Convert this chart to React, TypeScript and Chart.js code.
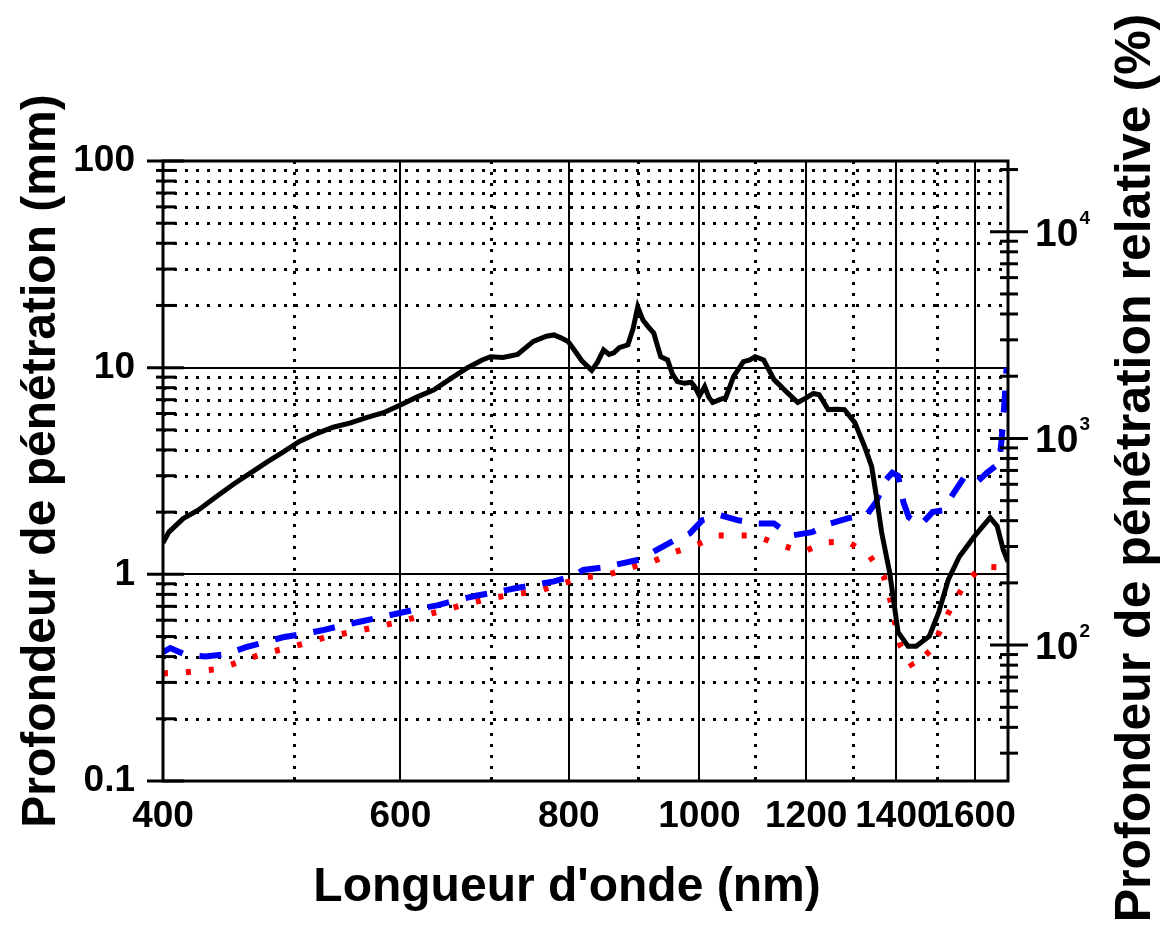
import React, { useEffect, useRef } from "react";
import { Chart, registerables } from "chart.js";

Chart.register(...registerables);

// ---- Data ----
const blackWavelength = [400, 404, 414, 425, 439, 452, 464, 478, 491, 505, 520, 535, 551, 567, 583, 600, 617, 635, 653, 673, 690, 700, 715, 733, 753, 770, 780, 790, 799, 808, 818, 832, 840, 849, 857, 864, 872, 885, 893, 900, 908, 916, 925, 930, 936, 947, 955, 963, 975, 986, 993, 1000, 1009, 1016, 1023, 1035, 1046, 1060, 1078, 1090, 1100, 1116, 1136, 1150, 1162, 1183, 1201, 1215, 1227, 1246, 1265, 1281, 1304, 1326, 1342, 1353, 1365, 1384, 1404, 1428, 1448, 1481, 1505, 1530, 1559, 1600, 1643, 1663, 1680, 1694];
const blackDepth = [1.42, 1.6, 1.86, 2.05, 2.4, 2.75, 3.08, 3.5, 3.9, 4.4, 4.8, 5.15, 5.4, 5.75, 6.05, 6.6, 7.2, 7.8, 8.8, 10.0, 10.9, 11.3, 11.2, 11.6, 13.4, 14.2, 14.4, 13.9, 13.4, 12.1, 10.8, 9.7, 10.6, 12.2, 11.6, 11.8, 12.5, 12.9, 15.5, 19.7, 17, 15.8, 14.7, 13, 11.3, 10.9, 9.3, 8.56, 8.4, 8.5, 8.0, 7.3, 8.1, 7.2, 6.78, 7.0, 7.16, 9.05, 10.7, 10.9, 11.3, 10.9, 8.75, 8.1, 7.57, 6.78, 7.16, 7.5, 7.4, 6.27, 6.3, 6.27, 5.42, 4.15, 3.33, 2.38, 1.6, 1.02, 0.525, 0.449, 0.449, 0.502, 0.655, 0.946, 1.22, 1.53, 1.88, 1.71, 1.32, 1.15];

const blueWavelength = [400, 405, 415, 430, 445, 461, 476, 491, 508, 525, 543, 562, 580, 598, 618, 639, 660, 684, 707, 730, 755, 780, 805, 820, 849, 876, 903, 935, 961, 984, 1005, 1037, 1067, 1100, 1136, 1170, 1212, 1250, 1290, 1330, 1352, 1374, 1390, 1404, 1417, 1430, 1459, 1489, 1516, 1543, 1572, 1606, 1634, 1669, 1676, 1683, 1690];
const blueDepth = [0.42, 0.44, 0.41, 0.4, 0.41, 0.444, 0.47, 0.496, 0.515, 0.536, 0.565, 0.593, 0.62, 0.648, 0.68, 0.708, 0.75, 0.79, 0.82, 0.856, 0.89, 0.925, 0.98, 1.05, 1.08, 1.13, 1.18, 1.34, 1.48, 1.58, 1.83, 1.93, 1.83, 1.76, 1.76, 1.54, 1.6, 1.76, 1.87, 1.93, 2.23, 2.85, 3.1, 3.0, 2.23, 1.89, 1.73, 2.0, 2.04, 2.46, 2.95, 2.79, 3.1, 3.45, 4.55, 6.5, 10.0];

const redWavelength = [400, 403, 415, 439, 455, 471, 490, 510, 530, 552, 575, 597, 622, 647, 672, 700, 728, 758, 790, 820, 853, 890, 925, 958, 998, 1031, 1065, 1100, 1140, 1193, 1240, 1288, 1336, 1370, 1385, 1397, 1410, 1440, 1487, 1513, 1542, 1578, 1622, 1680, 1694];
const redDepth = [0.33, 0.333, 0.335, 0.348, 0.375, 0.406, 0.434, 0.464, 0.5, 0.525, 0.555, 0.586, 0.63, 0.67, 0.72, 0.766, 0.8, 0.828, 0.9, 0.967, 0.99, 1.08, 1.16, 1.28, 1.4, 1.54, 1.54, 1.54, 1.41, 1.28, 1.43, 1.44, 1.24, 0.98, 0.76, 0.58, 0.45, 0.356, 0.434, 0.56, 0.72, 0.925, 1.09, 1.08, 1.06];

// ---- Axes / ticks ----
const xRange = [400, 1694];
const xTickLabels = [400, 600, 800, 1000, 1200, 1400, 1600];
const xMinorGrid = [500, 700, 900, 1100, 1300, 1500];
const yLeftRange = [0.1, 100];
const yLeftMajor = [0.1, 1, 10, 100];
const yLeftMinor = [0.2, 0.3, 0.4, 0.5, 0.6, 0.7, 0.8, 0.9, 2, 3, 4, 5, 6, 7, 8, 9, 20, 30, 40, 50, 60, 70, 80, 90];
const yRightRange = [22, 22000];
const yRightMajor = [100, 1000, 10000];
const yRightExponents = ["2", "3", "4"];
const yRightMinor = [30, 40, 50, 60, 70, 80, 90, 200, 300, 400, 500, 600, 700, 800, 900, 2000, 3000, 4000, 5000, 6000, 7000, 8000, 9000, 20000];

const xTitle = "Longueur d'onde (nm)";
const yLeftTitle = "Profondeur de pénétration (mm)";
const yRightTitle = "Profondeur de pénétration relative (%)";

const FONT = "'Liberation Sans', Arial, Helvetica, sans-serif";

const framePlugin = {
  id: "frame",
  beforeDatasetsDraw(chart: any) {
    const { ctx, chartArea: a, scales } = chart;
    const x = scales.x, y = scales.y;
    ctx.save();
    ctx.strokeStyle = "#000";
    ctx.lineWidth = 3;
    ctx.setLineDash([3, 8]);
    for (const v of yLeftMinor) {
      const py = Math.round(y.getPixelForValue(v)) + 0.5;
      ctx.beginPath();
      ctx.moveTo(a.left, py);
      ctx.lineTo(a.right, py);
      ctx.stroke();
    }
    for (const v of xMinorGrid) {
      const px = Math.round(x.getPixelForValue(v)) + 0.5;
      ctx.beginPath();
      ctx.moveTo(px, a.top);
      ctx.lineTo(px, a.bottom);
      ctx.stroke();
    }
    ctx.setLineDash([]);
    ctx.lineWidth = 2;
    for (const v of yLeftMajor) {
      const py = Math.round(y.getPixelForValue(v));
      ctx.beginPath();
      ctx.moveTo(a.left, py);
      ctx.lineTo(a.right, py);
      ctx.stroke();
    }
    for (const v of xTickLabels) {
      const px = Math.round(x.getPixelForValue(v));
      ctx.beginPath();
      ctx.moveTo(px, a.top);
      ctx.lineTo(px, a.bottom);
      ctx.stroke();
    }
    ctx.restore();
  },
  afterDatasetsDraw(chart: any) {
    const { ctx, chartArea: a, scales } = chart;
    const y = scales.y, y2 = scales.y2;
    ctx.save();
    ctx.strokeStyle = "#000";
    ctx.setLineDash([]);
    ctx.lineWidth = 3;
    ctx.strokeRect(a.left, a.top, a.right - a.left, a.bottom - a.top);
    const hline = (x1: number, x2: number, py: number) => {
      ctx.beginPath();
      ctx.moveTo(x1, py);
      ctx.lineTo(x2, py);
      ctx.stroke();
    };
    for (const v of yLeftMinor) hline(a.left - 7, a.left + 13, y.getPixelForValue(v));
    for (const v of yLeftMajor) hline(a.left - 16, a.left + 21, y.getPixelForValue(v));
    for (const v of yRightMinor) hline(a.right - 8, a.right + 10, y2.getPixelForValue(v));
    for (const v of yRightMajor) hline(a.right - 18, a.right + 20, y2.getPixelForValue(v));

    ctx.fillStyle = "#000";
    ctx.textAlign = "left";
    ctx.textBaseline = "alphabetic";
    yRightMajor.forEach((v, i) => {
      const py = y2.getPixelForValue(v);
      ctx.font = `bold 39px ${FONT}`;
      ctx.fillText("10", 1035, py + 14);
      const w = ctx.measureText("10").width;
      ctx.font = `bold 19px ${FONT}`;
      ctx.fillText(yRightExponents[i], 1035 + w + 1, py - 8);
    });

    ctx.textAlign = "center";
    ctx.textBaseline = "alphabetic";
    ctx.font = `bold 48px ${FONT}`;
    ctx.fillText(xTitle, 567, 901);
    ctx.save();
    ctx.translate(55, 461);
    ctx.rotate(-Math.PI / 2);
    ctx.fillText(yLeftTitle, 0, 0);
    ctx.restore();
    ctx.save();
    ctx.font = `bold 50px ${FONT}`;
    ctx.translate(1150, 468);
    ctx.rotate(-Math.PI / 2);
    ctx.fillText(yRightTitle, 0, 0);
    ctx.restore();
    ctx.restore();
  },
};

export default function App() {
  const ref = useRef<HTMLCanvasElement | null>(null);
  useEffect(() => {
    if (!ref.current) return;
    const toPts = (xs: number[], ys: number[]) => xs.map((x, i) => ({ x, y: ys[i] }));
    const tickFont = { family: FONT, size: 37, weight: "bold" as const };
    const chart = new Chart(ref.current, {
      type: "line",
      data: {
        datasets: [
          {
            label: "black",
            data: toPts(blackWavelength, blackDepth),
            borderColor: "#000000",
            borderWidth: 5,
            pointRadius: 0,
            tension: 0,
            yAxisID: "y",
          },
          {
            label: "blue",
            data: toPts(blueWavelength, blueDepth),
            borderColor: "#0000ff",
            borderWidth: 6,
            borderDash: [22, 17],
            pointRadius: 0,
            tension: 0,
            yAxisID: "y",
          },
          {
            label: "red",
            data: toPts(redWavelength, redDepth),
            borderColor: "#ff0000",
            borderWidth: 6,
            borderDash: [5, 18],
            pointRadius: 0,
            tension: 0,
            yAxisID: "y",
          },
        ],
      },
      options: {
        animation: false,
        responsive: false,
        events: [],
        layout: { padding: { top: 161, left: 0, right: 0, bottom: 0 } },
        plugins: { legend: { display: false }, tooltip: { enabled: false }, title: { display: false } },
        scales: {
          x: {
            type: "logarithmic",
            position: "bottom",
            min: xRange[0],
            max: xRange[1],
            grid: { display: false },
            border: { display: false },
            afterBuildTicks: (s: any) => {
              s.ticks = xTickLabels.map((v) => ({ value: v }));
            },
            afterFit: (s: any) => {
              s.height = 144;
            },
            ticks: {
              autoSkip: false,
              maxRotation: 0,
              minRotation: 0,
              color: "#000",
              font: tickFont,
              padding: 6,
              callback: (v: any) => String(v),
            },
          },
          y: {
            type: "logarithmic",
            position: "left",
            min: yLeftRange[0],
            max: yLeftRange[1],
            grid: { display: false },
            border: { display: false },
            afterBuildTicks: (s: any) => {
              s.ticks = yLeftMajor.map((v) => ({ value: v }));
            },
            afterFit: (s: any) => {
              s.width = 163;
            },
            ticks: {
              autoSkip: false,
              color: "#000",
              font: tickFont,
              padding: 20,
              callback: (v: any) => String(v),
            },
          },
          y2: {
            type: "logarithmic",
            position: "right",
            min: yRightRange[0],
            max: yRightRange[1],
            display: true,
            grid: { display: false },
            border: { display: false },
            afterFit: (s: any) => {
              s.width = 159;
            },
            ticks: { display: false },
          },
        },
      },
      plugins: [framePlugin],
    });
    return () => chart.destroy();
  }, []);
  return (
    <div style={{ position: "fixed", left: 0, top: 0, width: 1167, height: 925, background: "#fff" }}>
      <canvas ref={ref} width={1167} height={925} style={{ display: "block" }} />
    </div>
  );
}
